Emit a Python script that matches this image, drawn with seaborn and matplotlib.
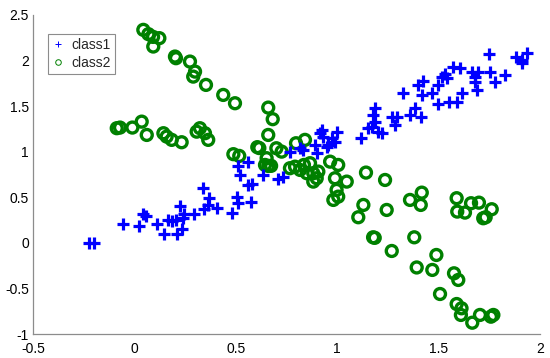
import numpy as np
import pandas as pd
import matplotlib
matplotlib.use("Agg")
import matplotlib.pyplot as plt
import seaborn as sns
from matplotlib.lines import Line2D

# class1 (blue crosses)
class1_x = [-0.222, -0.199, -0.058, 0.024, 0.044, 0.057, 0.110, 0.148, 0.167, 0.184,
            0.205, 0.212, 0.225, 0.233, 0.245, 0.238, 0.295, 0.340, 0.343, 0.364,
            0.369, 0.406, 0.480, 0.504, 0.512, 0.573, 0.562, 0.578, 0.512, 0.562,
            0.523, 0.633, 0.710, 0.731, 0.767, 0.817, 0.891, 0.899, 0.915, 0.931,
            0.956, 0.973, 0.997, 0.989, 0.948, 0.924, 0.833, 1.117, 1.153, 1.186,
            1.178, 1.186, 1.170, 1.203, 1.219, 1.269, 1.293, 1.285, 1.359, 1.384,
            1.413, 1.323, 1.400, 1.425, 1.417, 1.466, 1.499, 1.551, 1.589, 1.614,
            1.499, 1.515, 1.532, 1.573, 1.606, 1.540, 1.663, 1.679, 1.696, 1.679,
            1.688, 1.753, 1.778, 1.827, 1.749, 1.880, 1.910, 1.934, 1.910]
class1_y = [0.000, 0.000, 0.210, 0.180, 0.320, 0.300, 0.210, 0.100, 0.250, 0.240,
            0.250, 0.100, 0.400, 0.150, 0.320, 0.270, 0.320, 0.600, 0.370, 0.420,
            0.490, 0.380, 0.325, 0.507, 0.435, 0.452, 0.636, 0.647, 0.845, 0.885,
            0.745, 0.745, 0.700, 0.720, 1.000, 1.040, 1.075, 0.984, 1.203, 1.166,
            1.075, 1.148, 1.220, 1.111, 1.056, 1.239, 1.020, 1.148, 1.258, 1.330,
            1.404, 1.477, 1.275, 1.220, 1.203, 1.385, 1.385, 1.294, 1.404, 1.477,
            1.385, 1.642, 1.733, 1.780, 1.623, 1.642, 1.525, 1.550, 1.550, 1.649,
            1.733, 1.824, 1.854, 1.934, 1.917, 1.807, 1.879, 1.824, 1.879, 1.770,
            1.678, 1.879, 1.770, 1.843, 2.074, 2.044, 2.008, 2.088, 1.971]

# class2 (green circles)
class2_x = [0.044, 0.069, 0.092, 0.123, 0.093, 0.200, 0.205, 0.274, 0.299, 0.290,
            0.353, 0.438, 0.496, 0.660, 0.682, 0.660, -0.087, -0.071, -0.010, 0.036,
            0.061, 0.143, 0.159, 0.184, 0.233, 0.307, 0.323, 0.348, 0.364, 0.488,
            0.517, 0.606, 0.616, 0.652, 0.660, 0.644, 0.674, 0.700, 0.726, 0.797,
            0.841, 0.767, 0.792, 0.817, 0.836, 0.866, 0.882, 0.907, 0.899, 0.965,
            1.005, 0.989, 1.047, 0.997, 0.981, 1.005, 0.850, 0.882, 1.142, 1.236,
            1.129, 1.104, 1.244, 1.177, 1.185, 1.269, 1.359, 1.417, 1.412, 1.380,
            1.392, 1.469, 1.489, 1.507, 1.576, 1.597, 1.589, 1.613, 1.610, 1.666,
            1.704, 1.758, 1.770, 1.589, 1.592, 1.630, 1.660, 1.699, 1.720, 1.732,
            1.762]
class2_y = [2.337, 2.290, 2.260, 2.246, 2.154, 2.044, 2.026, 1.989, 1.879, 1.824,
            1.733, 1.623, 1.532, 1.484, 1.357, 1.184, 1.258, 1.265, 1.265, 1.330,
            1.184, 1.203, 1.166, 1.130, 1.104, 1.220, 1.258, 1.203, 1.130, 0.973,
            0.954, 1.050, 1.040, 0.929, 0.844, 0.855, 0.845, 1.038, 1.001, 1.093,
            1.130, 0.819, 0.836, 0.800, 0.855, 0.874, 0.764, 0.782, 0.709, 0.891,
            0.855, 0.709, 0.672, 0.581, 0.471, 0.507, 0.764, 0.672, 0.771, 0.690,
            0.416, 0.281, 0.361, 0.061, 0.055, -0.089, 0.471, 0.551, 0.416, 0.061,
            -0.270, -0.297, -0.133, -0.561, -0.334, -0.407, -0.671, -0.718, -0.791, -0.876,
            -0.791, -0.810, -0.791, 0.490, 0.343, 0.332, 0.435, 0.441, 0.270, 0.281,
            0.369]

blue = "#0000ff"
green = "#008000"

sns.set_style("white")
plt.rcParams["font.family"] = ["Liberation Sans", "DejaVu Sans"]

fig = plt.figure(figsize=(5.5, 3.58), dpi=100)
ax = fig.add_axes([33 / 550, 24 / 358, 507 / 550, 319 / 358])

sns.scatterplot(x=class1_x, y=class1_y, marker="+", s=75, color=blue,
                linewidth=2.3, ax=ax, zorder=3)
sns.scatterplot(x=class2_x, y=class2_y, marker="o", s=62, facecolors="none",
                edgecolors=green, linewidths=2.4, ax=ax, zorder=2)

ax.set_xlim(-0.5, 2)
ax.set_ylim(-1, 2.5)
ax.set_xticks([-0.5, 0, 0.5, 1, 1.5, 2])
ax.set_xticklabels(["-0.5", "0", "0.5", "1", "1.5", "2"])
ax.set_yticks([-1, -0.5, 0, 0.5, 1, 1.5, 2, 2.5])
ax.set_yticklabels(["-1", "-0.5", "0", "0.5", "1", "1.5", "2", "2.5"])

sns.despine(ax=ax)
for side in ["left", "bottom"]:
    ax.spines[side].set_color("#8c8c8c")
    ax.spines[side].set_linewidth(0.9)
ax.tick_params(axis="both", direction="in", length=4, width=0.8,
               color="#8c8c8c", labelsize=10, labelcolor="black")
ax.tick_params(axis="x", pad=6)
ax.tick_params(axis="y", pad=3)

handles = [
    Line2D([], [], marker="+", linestyle="none", color=blue, markersize=4, markeredgewidth=0.7),
    Line2D([], [], marker="o", linestyle="none", markerfacecolor="none",
           markeredgecolor=green, markersize=4, markeredgewidth=0.7),
]
leg = ax.legend(handles, ["class1", "class2"], loc="upper left",
                bbox_to_anchor=(15 / 507, 1 - 19 / 319), borderaxespad=0,
                fancybox=False, fontsize=10, handlelength=0.9, handletextpad=0.5,
                borderpad=0.3, labelspacing=0.25, framealpha=1)
leg.get_frame().set_edgecolor("#8c8c8c")
leg.get_frame().set_linewidth(0.8)

fig.savefig("out.png", dpi=100)
